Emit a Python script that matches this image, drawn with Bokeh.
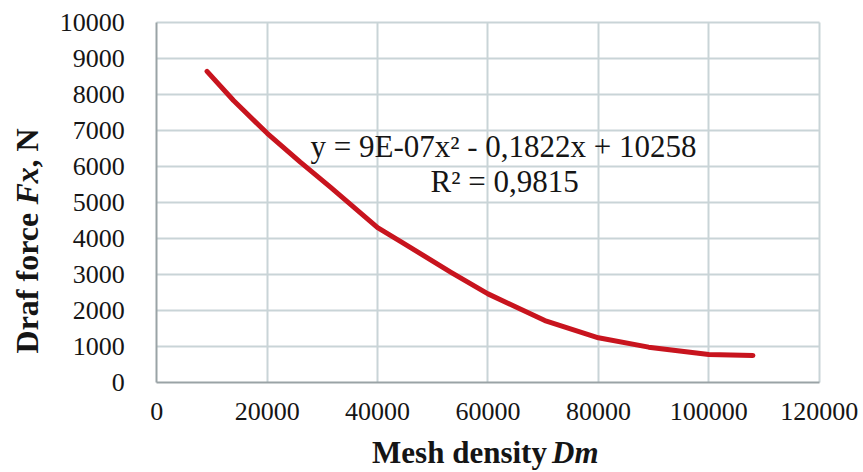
import math
from bokeh.plotting import figure
from bokeh.models import Label, FixedTicker, Range1d, NumeralTickFormatter, Grid
from bokeh.embed import file_html
from bokeh.resources import INLINE

# Data
mesh_density = [9100, 13900, 20000, 26000, 31500, 40000, 44200, 53300, 60000,
                70300, 80000, 89100, 100000, 108000]
draft_force = [8650, 7840, 6930, 6130, 5430, 4310, 3920, 3070, 2470,
               1730, 1250, 990, 785, 760]
x_ticks = [0, 20000, 40000, 60000, 80000, 100000, 120000]
y_ticks = [0, 1000, 2000, 3000, 4000, 5000, 6000, 7000, 8000, 9000, 10000]
equation_text = "y = 9E-07x\u00b2 - 0,1822x + 10258"
r2_text = "R\u00b2 = 0,9815"
x_title = ["Mesh density", "Dm"]
y_title = ["Draf force", "Fx", ", N"]

FONT = "Liberation Serif"
INK = "#151515"
X0, X1 = x_ticks[0], x_ticks[-1]
Y0, Y1 = y_ticks[0], y_ticks[-1]

# The frame fills the whole canvas; the axes sit at fixed data locations.
p = figure(width=863, height=472, output_backend="svg", toolbar_location=None,
           x_range=Range1d(-28315, 128026), y_range=Range1d(-2492, 10619),
           min_border=0)
p.outline_line_color = None
p.background_fill_color = "white"
p.border_fill_color = "white"

for ax in (p.xaxis[0], p.yaxis[0]):
    ax.fixed_location = 0
    ax.major_tick_line_color = None
    ax.minor_tick_line_color = None
    ax.axis_line_color = "#9AA3A6"
    ax.axis_line_width = 2
    ax.major_label_text_font = FONT
    ax.major_label_text_color = INK
    ax.major_label_text_font_size = "26px"
    ax.formatter = NumeralTickFormatter(format="0")

p.xaxis.bounds = (X0, X1)
p.yaxis.bounds = (Y0, Y1)
p.xaxis.ticker = FixedTicker(ticks=x_ticks)
p.yaxis.ticker = FixedTicker(ticks=y_ticks)
p.xaxis.major_label_standoff = 14
p.yaxis.major_label_standoff = 26

GRID_COLOR = "#C9D4D7"
if "cross_bounds" in Grid.properties():
    p.xgrid.ticker = FixedTicker(ticks=x_ticks[1:])
    p.ygrid.ticker = FixedTicker(ticks=y_ticks[1:])
    p.xgrid.cross_bounds = (Y0, Y1)
    p.ygrid.cross_bounds = (X0, X1)
    for g in (p.xgrid[0], p.ygrid[0]):
        g.grid_line_color = GRID_COLOR
        g.grid_line_width = 2
else:
    p.grid.visible = False
    p.segment(x0=x_ticks[1:], y0=[Y0] * (len(x_ticks) - 1),
              x1=x_ticks[1:], y1=[Y1] * (len(x_ticks) - 1),
              line_color=GRID_COLOR, line_width=2, level="underlay")
    p.segment(x0=[X0] * (len(y_ticks) - 1), y0=y_ticks[1:],
              x1=[X1] * (len(y_ticks) - 1), y1=y_ticks[1:],
              line_color=GRID_COLOR, line_width=2, level="underlay")

p.line(mesh_density, draft_force, line_color="#C8141E", line_width=5,
       line_join="round", line_cap="round")

# Trendline annotation
p.add_layout(Label(x=27840, y=6573, text=equation_text, text_font=FONT,
                   text_font_size="31px", text_color=INK,
                   text_baseline="alphabetic", text_align="left"))
p.add_layout(Label(x=49600, y=5600, text=r2_text, text_font=FONT,
                   text_font_size="31px", text_color=INK,
                   text_baseline="alphabetic", text_align="left"))

# X axis title (bold + bold italic)
p.add_layout(Label(x=39000, y=-1940, text=x_title[0], text_font=FONT,
                   text_font_size="31px", text_font_style="bold",
                   text_color=INK, text_baseline="alphabetic",
                   text_align="left"))
p.add_layout(Label(x=71600, y=-1940, text=x_title[1], text_font=FONT,
                   text_font_size="31px", text_font_style="bold italic",
                   text_color=INK, text_baseline="alphabetic",
                   text_align="left"))

# Y axis title (rotated)
for txt, ypos, style in ((y_title[0], 814, "bold"),
                         (y_title[1], 4953, "bold italic"),
                         (y_title[2], 5981, "bold")):
    p.add_layout(Label(x=-23500, y=ypos, text=txt, text_font=FONT,
                       text_font_size="32px", text_font_style=style,
                       text_color=INK, text_baseline="alphabetic",
                       text_align="left", angle=math.pi / 2))

open("out.html", "w").write(file_html(p, INLINE))
